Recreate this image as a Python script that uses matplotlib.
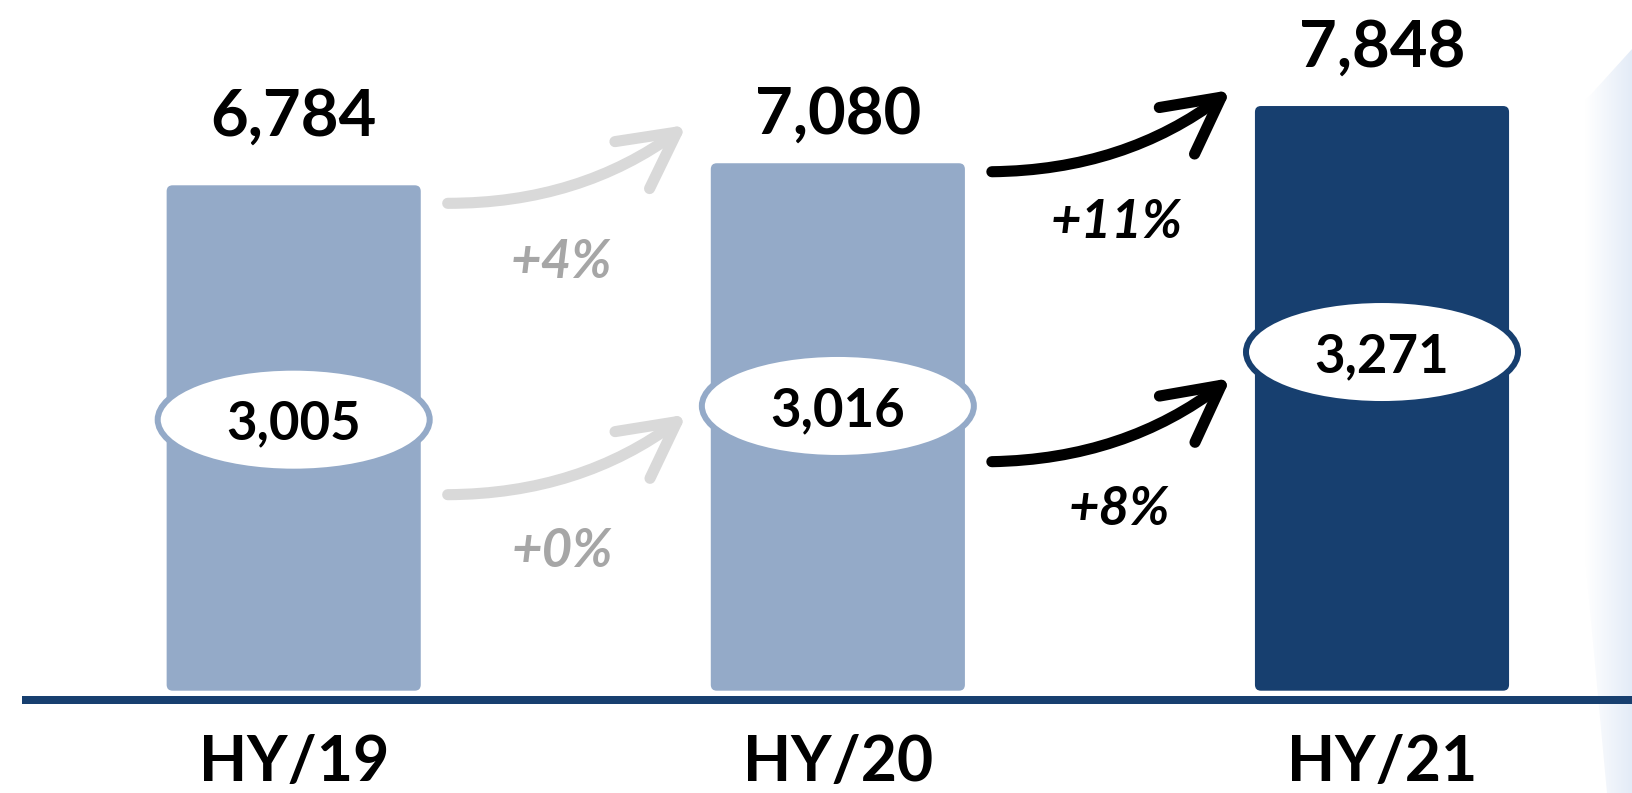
import numpy as np
import matplotlib
matplotlib.use("Agg")
import matplotlib.pyplot as plt
from matplotlib.patches import FancyBboxPatch, Ellipse, FancyArrowPatch, Polygon

plt.rcParams['font.family'] = ['Lato', 'DejaVu Sans']

# data
periods = ["HY/19", "HY/20", "HY/21"]
totals = [6784, 7080, 7848]
inner = [3005, 3016, 3271]
growth_total = ["+4%", "+11%"]
growth_inner = ["+0%", "+8%"]

light = "#94aac8"
dark = "#173f6f"
grey_arrow = "#d9d9d9"
grey_text = "#a6a6a6"

W, H = 1633, 793
fig = plt.figure(figsize=(W / 100, H / 100), dpi=100)

# pixel-space axes for background decoration
bg = fig.add_axes([0, 0, 1, 1], zorder=0)
bg.set_xlim(0, W)
bg.set_ylim(H, 0)
bg.axis("off")
poly = Polygon([(1633, 48), (1585, 101), (1585, 556), (1607, 793), (1633, 793)],
               closed=True, facecolor="none", edgecolor="none")
bg.add_patch(poly)
grad = np.linspace(0, 1, 100).reshape(1, -1)
cmap = matplotlib.colors.LinearSegmentedColormap.from_list("g", ["#ffffff", "#e3ebf7"])
im = bg.imshow(grad, extent=(1585, 1633, 793, 40), cmap=cmap, aspect="auto")
im.set_clip_path(poly)
bg.plot([22, W], [700, 700], color=dark, lw=8 * 0.72, solid_capstyle="butt")

# main axes in data units
ax = fig.add_axes([0, 0, 1, 1], zorder=1)
ax.patch.set_alpha(0)
ppx = 544.15      # pixels per category
ppy = 0.0745      # pixels per unit
x0, y0 = 293.7, 690.7
ax.set_xlim(-x0 / ppx, (W - x0) / ppx)
ax.set_ylim(-(H - y0) / ppy, y0 / ppy)
ax.axis("off")

x = np.arange(len(periods))
colors = [light, light, dark]
bars = ax.bar(x, totals, width=0.467, color=colors)
for rect, c in zip(bars, colors):
    rect.set_visible(False)
    fb = FancyBboxPatch((rect.get_x(), rect.get_y()), rect.get_width(), rect.get_height(),
                        boxstyle="round,pad=0,rounding_size=0.011",
                        mutation_aspect=ppx / ppy, facecolor=c, edgecolor="none")
    ax.add_patch(fb)

# total labels above bars
label_off = [36, 21, 28]
for xi, v, off in zip(x, totals, label_off):
    ax.annotate(f"{v:,}", (xi, v), xytext=(0, off), textcoords="offset points",
                ha="center", va="baseline", fontsize=47, fontweight="bold", color="black")

# category labels
for xi, lab in zip(x, periods):
    ax.text(xi, -(781 - y0) / ppy, lab, ha="center", va="baseline",
            fontsize=45, fontweight="bold", color="black")

# ellipses with inner values
ell_y = [3638, 3822, 4546]
ell_edge = [light, light, dark]
for xi, yv, v, ec in zip(x, ell_y, inner, ell_edge):
    e = Ellipse((xi, yv), width=272 / ppx, height=104 / ppy, facecolor="white",
                edgecolor=ec, lw=6 * 0.72, zorder=3)
    ax.add_patch(e)
    ax.text(xi, yv, f"{v:,}", ha="center", va="center_baseline", fontsize=38,
            fontweight="bold", color="black", zorder=4)

# growth arrows (tail -> tip, in data units relative to left bar)
arrows = [
    (0, 6542, 7593, grey_arrow),
    (0, 2631, 3707, grey_arrow),
    (1, 6966, 8063, "black"),
    (1, 3074, 4197, "black"),
]
for i, ya, yb, c in arrows:
    a = FancyArrowPatch((i + 0.283, ya), (i + 0.722, yb),
                        connectionstyle="arc3,rad=0.165",
                        arrowstyle="->,head_length=40,head_width=21",
                        mutation_scale=1, lw=8, color=c, capstyle="round",
                        joinstyle="round", shrinkA=0, shrinkB=0, zorder=2)
    ax.add_patch(a)

# growth labels
pct_pos = [(0.491, 5752), (0.493, 1862), (1.513, 6291), (1.518, 2426)]
pct_txt = [growth_total[0], growth_inner[0], growth_total[1], growth_inner[1]]
pct_col = [grey_text, grey_text, "black", "black"]
for (px, py), t, c in zip(pct_pos, pct_txt, pct_col):
    ax.text(px, py, t, ha="center", va="center", fontsize=38, fontweight="bold",
            fontstyle="italic", color=c)

fig.savefig("out.png", dpi=100)
